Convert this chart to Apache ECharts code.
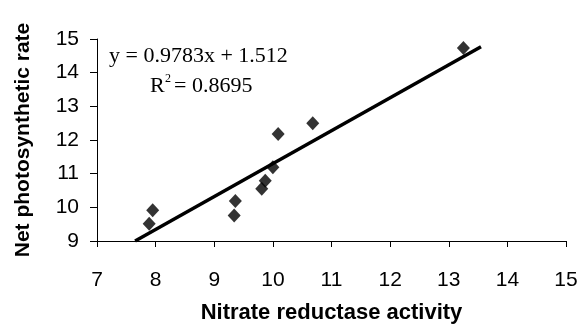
<!DOCTYPE html>
<html>
<head>
<meta charset="utf-8">
<script src="https://cdn.jsdelivr.net/npm/echarts@6/dist/echarts.min.js"></script>
<style>
html,body{margin:0;padding:0;background:#fff;}
#chart{width:582px;height:329px;}
</style>
</head>
<body>
<div id="chart"></div>
<script>
// Observed data points (Nitrate reductase activity, Net photosynthetic rate)
var nraValues = [7.89, 7.95, 9.34, 9.36, 9.81, 9.87, 10.0, 10.09, 10.68, 13.25];
var pnValues  = [9.51, 9.91, 9.76, 10.19, 10.55, 10.79, 11.19, 12.18, 12.50, 14.73];
// Trendline endpoints as drawn in the figure
var trendX = [7.65, 13.55];
var trendY = [9.0, 14.77];
var xTicks = [7, 8, 9, 10, 11, 12, 13, 14, 15];
var yTicks = [9, 10, 11, 12, 13, 14, 15];
var equationText = 'y = 0.9783x + 1.512';
var r2Text = '= 0.8695';

var pts = nraValues.map(function(v, i){ return [v, pnValues[i]]; });
var trend = trendX.map(function(v, i){ return [v, trendY[i]]; });

var chart = echarts.init(document.getElementById('chart'), null, {renderer:'canvas'});
chart.setOption({
  animation: false,
  backgroundColor: '#fff',
  grid: {left: 97, right: 16, top: 39, bottom: 86},
  xAxis: {
    type: 'value', min: xTicks[0], max: xTicks[xTicks.length-1], interval: 1,
    name: 'Nitrate reductase activity', nameLocation: 'middle', nameGap: 61,
    nameTextStyle: {fontFamily: 'Liberation Sans, Arial', fontWeight: 'bold', fontSize: 22, color: '#000'},
    axisLine: {show: true, lineStyle: {color: '#000', width: 1}},
    axisTick: {show: true, inside: false, length: 6, lineStyle: {color: '#000'}},
    axisLabel: {margin: 29, fontFamily: 'Liberation Sans, Arial', fontSize: 21, color: '#000'},
    splitLine: {show: false}
  },
  yAxis: {
    type: 'value', min: yTicks[0], max: yTicks[yTicks.length-1], interval: 1,
    name: 'Net photosynthetic rate', nameLocation: 'middle', nameGap: 63,
    nameTextStyle: {fontFamily: 'Liberation Sans, Arial', fontWeight: 'bold', fontSize: 21, color: '#000'},
    axisLine: {show: true, lineStyle: {color: '#000', width: 1}},
    axisTick: {show: true, inside: false, length: 7, lineStyle: {color: '#000'}},
    axisLabel: {margin: 18, fontFamily: 'Liberation Sans, Arial', fontSize: 21, color: '#000'},
    splitLine: {show: false}
  },
  series: [
    {
      type: 'line', data: trend, showSymbol: false, symbol: 'none',
      lineStyle: {color: '#000', width: 3.5}, z: 2
    },
    {
      type: 'scatter', data: pts, symbol: 'diamond', symbolSize: [13, 14],
      itemStyle: {color: '#000'}, z: 3
    }
  ],
  graphic: [
    {type: 'text', left: 109, top: 45, style: {text: equationText, font: '22px "Liberation Serif", "Times New Roman", serif', fill: '#000'}},
    {type: 'text', left: 150, top: 75, style: {text: 'R', font: '22px "Liberation Serif", "Times New Roman", serif', fill: '#000'}},
    {type: 'text', left: 165, top: 73, style: {text: '2', font: '12px "Liberation Serif", "Times New Roman", serif', fill: '#000'}},
    {type: 'text', left: 174, top: 75, style: {text: r2Text, font: '22px "Liberation Serif", "Times New Roman", serif', fill: '#000'}}
  ]
});
</script>
</body>
</html>
